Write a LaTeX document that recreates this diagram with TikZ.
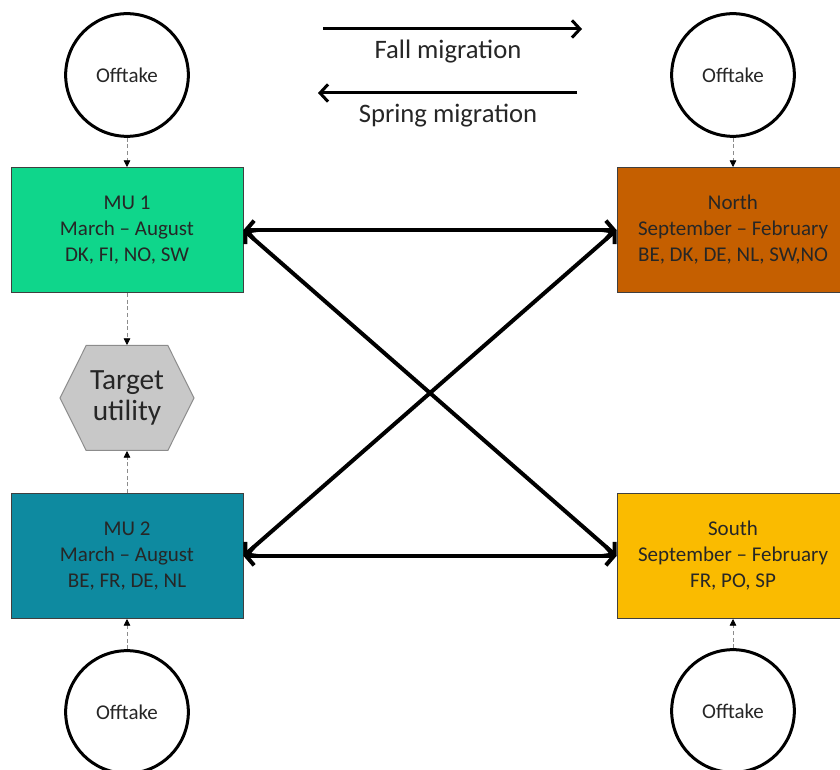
\documentclass[tikz,border=0pt]{standalone}
\usepackage{fontspec}
\setmainfont{Carlito}
\usetikzlibrary{arrows.meta,shapes.symbols}
\definecolor{mint}{HTML}{0FD68B}
\definecolor{rust}{HTML}{C55F00}
\definecolor{petrol}{HTML}{0E8AA0}
\definecolor{amber}{HTML}{FABB00}
\definecolor{hexgray}{HTML}{C8C8C8}
\definecolor{hexline}{HTML}{8C8C8C}
\definecolor{boxline}{HTML}{3F3F3F}
\definecolor{ink}{HTML}{262626}

\begin{document}
\begin{tikzpicture}[x=0.75pt,y=0.75pt,
  box/.style={draw=boxline,line width=0.75pt,minimum width=174pt,minimum height=93.75pt,
    inner sep=0pt,align=center,text=ink,font=\fontsize{15.75}{19.5}\selectfont},
  offtake/.style={circle,draw,line width=2.25pt,minimum size=92pt,inner sep=0pt,
    text=ink,font=\fontsize{15.75}{19}\selectfont},
  feed/.style={densely dashed,hexline,line width=0.6pt,-{Triangle[black,length=5pt,width=5pt]}},
  migr/.style={line width=3pt,{Straight Barb[length=6pt,width=14pt]}-{Straight Barb[length=6pt,width=14pt]}},
  legend/.style={line width=2.25pt,-{Straight Barb[length=6pt,width=13pt]}},
  legtext/.style={text=ink,font=\fontsize{20}{24}\selectfont}]
  \useasboundingbox (0,0) rectangle (840,769);
  % ----- legend -----
  \coordinate (fallA) at (323,740);
  \coordinate (fallB) at (582,740);
  \coordinate (springA) at (577,676);
  \coordinate (springB) at (318,676);
  \draw[legend] (fallA) -- (fallB);
  \draw[legend] (springA) -- (springB);
  \node[legtext] (falltxt) at (448,717){Fall migration};
  \node[legtext] (springtxt) at (448,653){Spring migration};
  % ----- units -----
  \node[box,fill=mint] (mua) at (127,539){MU 1\\March – August\\DK, FI, NO, SW};
  \node[box,fill=petrol] (mub) at (127,213){MU 2\\March – August\\BE, FR, DE, NL};
  \node[box,fill=rust] (north) at (733,539){North\\September – February\\BE, DK, DE, NL, SW,NO};
  \node[box,fill=amber] (south) at (733,213){South\\September – February\\FR, PO, SP};
  % ----- target -----
  \node[signal,signal to=west and east,signal pointer angle=127,fill=hexgray,draw=hexline,
    line width=0.75pt,minimum width=100.5pt,minimum height=78.75pt,inner sep=0pt,
    align=center,text=ink,font=\fontsize{22}{23.5}\selectfont] (target) at (127,371){Target\\utility};
  % ----- offtake -----
  \node[offtake] (offa) at (127,694){Offtake};
  \node[offtake] (offn) at (733,694){Offtake};
  \node[offtake] (offb) at (127,57){Offtake};
  \node[offtake] (offs) at (733,58){Offtake};
  \draw[feed] (offa.south) -- (mua.north);
  \draw[feed] (mua.south) -- (target.north);
  \draw[feed] (mub.north) -- (target.south);
  \draw[feed] (offb.north) -- (mub.south);
  \draw[feed] (offn.south) -- (north.north);
  \draw[feed] (offs.north) -- (south.south);
  % migration links
  \draw[migr] (mua.east) -- (north.west);
  \draw[migr] (mub.east) -- (south.west);
  \draw[migr] (mua.east) -- (south.west);
  \draw[migr] (mub.east) -- (north.west);
\end{tikzpicture}
\end{document}
